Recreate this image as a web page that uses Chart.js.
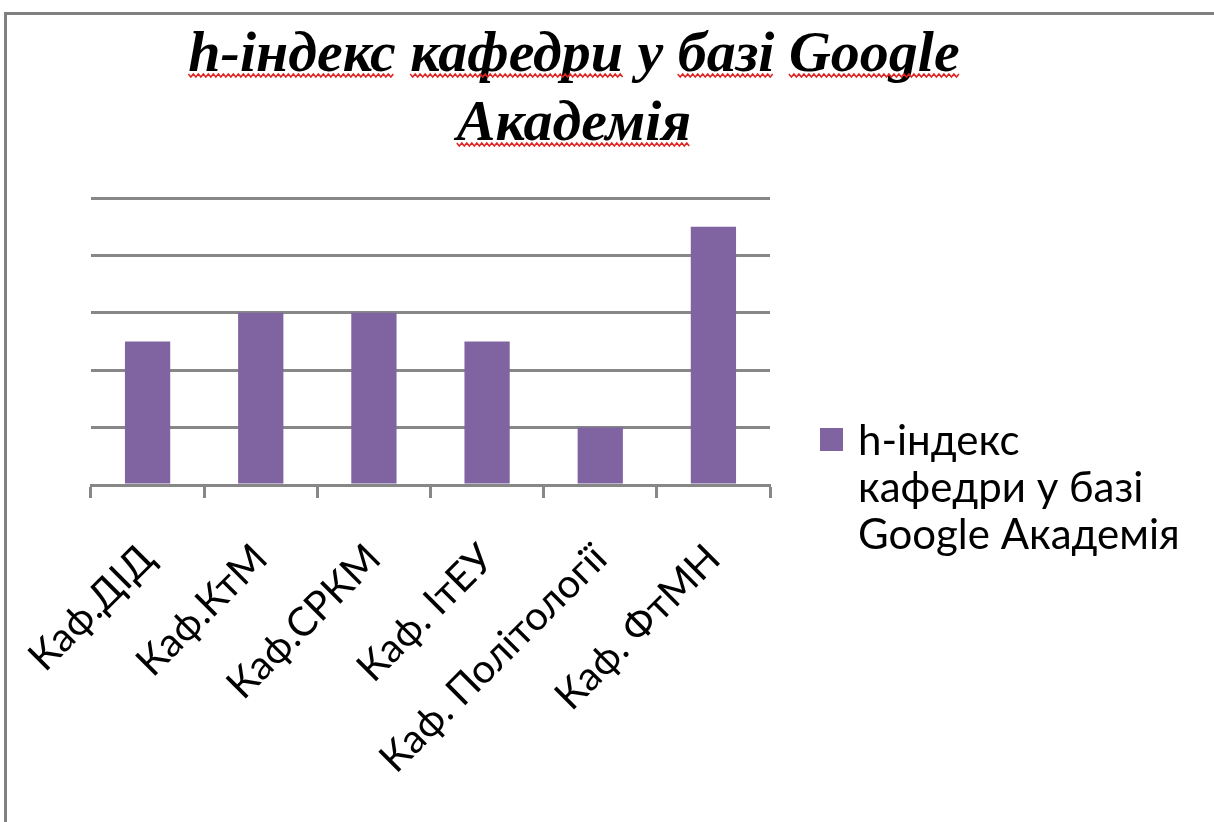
<!DOCTYPE html>
<html><head><meta charset="utf-8">
<script src="https://cdn.jsdelivr.net/npm/chart.js@4.4.1/dist/chart.umd.min.js"></script>
<style>
html,body{margin:0;padding:0;background:#fff;}
#wrap{position:relative;width:1214px;height:822px;overflow:hidden;background:#fff;}
#frame{position:absolute;left:4px;top:12px;width:1220px;height:820px;border-top:3px solid #808080;border-left:3px solid #808080;pointer-events:none;}
canvas{position:absolute;left:0;top:0;}
</style></head><body>
<div id="wrap"><canvas id="c" width="1214" height="822"></canvas><div id="frame"></div></div>
<script>
const categories = ['Каф.ДІД', 'Каф.КтМ', 'Каф.СРКМ', 'Каф. ІтЕУ', 'Каф. Політології', 'Каф. ФтМН'];
const hIndexValues = [5, 6, 6, 5, 2, 9];
const seriesName = 'h-індекс кафедри у базі Google Академія';
const titleLines = ['h-індекс кафедри у базі Google', 'Академія'];
const legendLines = ['h-індекс', 'кафедри у базі', 'Google Академія'];

const BAR_COLOR = '#8064a2';
const GRID_COLOR = '#878787';

const titlePlugin = {
  id: 'customTitle',
  afterDraw(chart) {
    const ctx = chart.ctx;
    ctx.save();
    ctx.font = 'bold italic 58px "Liberation Serif", "DejaVu Serif", serif';
    ctx.fillStyle = '#000';
    ctx.textAlign = 'left';
    ctx.textBaseline = 'alphabetic';
    const cx = 574;
    const baselines = [71, 140];
    titleLines.forEach((line, i) => {
      const w = ctx.measureText(line).width;
      const x0 = cx - w / 2;
      ctx.fillText(line, x0, baselines[i]);
      // spell-check style wavy underline under words
      const words = line.split(' ');
      let x = x0;
      const spaceW = ctx.measureText(' ').width;
      ctx.strokeStyle = '#e02424';
      ctx.lineWidth = 1.5;
      words.forEach(word => {
        const ww = ctx.measureText(word).width;
        if (word.length > 1) {
          const y = baselines[i] + 3;
          ctx.beginPath();
          let up = true;
          for (let px = x; px <= x + ww; px += 2.5) {
            const py = y + (up ? 0 : 3);
            if (px === x) ctx.moveTo(px, py); else ctx.lineTo(px, py);
            up = !up;
          }
          ctx.stroke();
        }
        x += ww + spaceW;
      });
    });
    ctx.restore();
  }
};

const legendPlugin = {
  id: 'customLegend',
  afterDraw(chart) {
    const ctx = chart.ctx;
    ctx.save();
    ctx.fillStyle = chart.data.datasets[0].backgroundColor;
    ctx.fillRect(820, 428, 23, 23);
    ctx.fillStyle = '#000';
    ctx.font = '42px Lato, "Open Sans", sans-serif';
    ctx.textAlign = 'left';
    ctx.textBaseline = 'alphabetic';
    legendLines.forEach((line, i) => {
      ctx.fillText(line, 858, 455 + i * 47);
    });
    ctx.restore();
  }
};

new Chart(document.getElementById('c'), {
  type: 'bar',
  data: {
    labels: categories,
    datasets: [{
      label: seriesName,
      data: hIndexValues,
      backgroundColor: BAR_COLOR,
      borderWidth: 0,
      categoryPercentage: 0.8,
      barPercentage: 0.5
    }]
  },
  options: {
    responsive: false,
    animation: false,
    devicePixelRatio: 1,
    layout: { padding: { left: 91, right: 444, top: 198, bottom: 0 } },
    plugins: {
      legend: { display: false },
      title: { display: false },
      tooltip: { enabled: false }
    },
    scales: {
      x: {
        offset: true,
        grid: {
          offset: true,
          drawOnChartArea: false,
          drawTicks: true,
          tickLength: 13,
          tickWidth: 3,
          tickColor: GRID_COLOR
        },
        border: { display: true, color: GRID_COLOR, width: 3 },
        ticks: {
          autoSkip: false,
          maxRotation: 45,
          minRotation: 45,
          padding: 37,
          color: '#000',
          font: { family: 'Lato, "Open Sans", sans-serif', size: 40 }
        },
        afterFit(scale) {
          scale.height = 822 - 485;
          scale.paddingLeft = 0;
          scale.paddingRight = 0;
        }
      },
      y: {
        min: 0,
        max: 10,
        ticks: { display: false, stepSize: 2 },
        grid: { color: GRID_COLOR, lineWidth: 3, drawTicks: false },
        border: { display: false },
        afterFit(scale) { scale.width = 0; }
      }
    }
  },
  plugins: [titlePlugin, legendPlugin]
});
</script>
</body></html>
